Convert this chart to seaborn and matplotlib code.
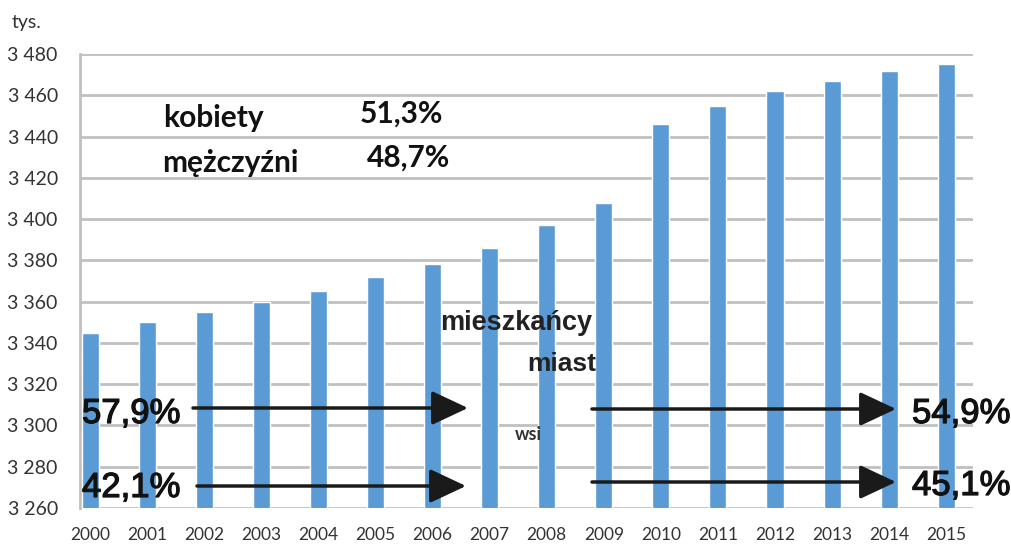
import matplotlib
matplotlib.use("Agg")
import matplotlib.pyplot as plt
import matplotlib.patheffects as pe
import seaborn as sns
import pandas as pd

years = [str(y) for y in range(2000, 2016)]
population = [3345, 3350, 3355, 3360, 3365, 3372, 3378, 3386, 3397, 3408,
              3446, 3455, 3462, 3467, 3472, 3475]
y_ticks = [3260, 3280, 3300, 3320, 3340, 3360, 3380, 3400, 3420, 3440, 3460, 3480]
y_tick_labels = ["3 260", "3 280", "3 300", "3 320", "3 340", "3 360", "3 380",
                 "3 400", "3 420", "3 440", "3 460", "3 480"]
unit_label = "tys."
gender_labels = ["kobiety", "mężczyźni"]
gender_shares = ["51,3%", "48,7%"]
urban_label = ["mieszkańcy", "miast"]
rural_label = "wsi"
share_start = ["57,9%", "42,1%"]
share_end = ["54,9%", "45,1%"]

sns.set_theme(style="white")
plt.rcParams['font.family'] = ['Lato', 'DejaVu Sans']

W, H = 1012, 548
fig = plt.figure(figsize=(W / 100, H / 100), dpi=100)
L, R, T, B = 80, 973, 54, 508
ax = fig.add_axes([L / W, 1 - B / H, (R - L) / W, (B - T) / H])

df = pd.DataFrame({"year": years, "pop": population})
sns.barplot(data=df, x="year", y="pop", color="#5b9bd5", width=0.3,
            saturation=1, ax=ax, zorder=3)
ax.set_ylim(3260, 3480)
ax.set_xlim(-0.18, 15.47)
ax.set_yticks(y_ticks)
ax.set_yticklabels(y_tick_labels, fontsize=14, color="#333333")
ax.tick_params(axis='y', pad=16, length=0)
ax.tick_params(axis='x', pad=14, length=0, labelsize=12.5, labelcolor="#333333")
ax.set_xlabel("")
ax.set_ylabel("")
for yv in y_ticks:
    ax.axhline(yv, color="#c0c0c0", lw=2, zorder=1)
for s in ["top", "right", "bottom"]:
    ax.spines[s].set_visible(False)
ax.spines["left"].set_color("#c0c0c0")
ax.spines["left"].set_linewidth(2)


def fx(px):
    return px / W


def fy(py):
    return 1 - py / H


fig.text(fx(12), fy(28), unit_label, fontsize=14, color="#333333", va="baseline")

calib = ['Lato', 'DejaVu Sans']
fig.text(fx(163), fy(127), gender_labels[0], fontsize=21.5, fontweight="bold",
         family=calib, va="baseline", color="#111111")
fig.text(fx(360), fy(123), gender_shares[0], fontsize=21.5, fontweight="bold",
         family=calib, va="baseline", color="#111111")
fig.text(fx(162), fy(172), gender_labels[1], fontsize=21.5, fontweight="bold",
         family=calib, va="baseline", color="#111111")
fig.text(fx(367), fy(167), gender_shares[1], fontsize=21.5, fontweight="bold",
         family=calib, va="baseline", color="#111111")

arial = ['Liberation Sans', 'DejaVu Sans']
fig.text(fx(440), fy(330), urban_label[0], fontsize=19.5, fontweight="bold",
         family=arial, va="baseline", color="#222222")
fig.text(fx(527), fy(371), urban_label[1], fontsize=19, fontweight="bold",
         family=arial, va="baseline", color="#222222")
fig.text(fx(515), fy(440), rural_label, fontsize=13, fontweight="bold",
         family=calib, va="baseline", color="#333333")

thick = [pe.withStroke(linewidth=0.9, foreground="#111111")]
for (px, py), s in zip([(82, 423), (82, 497)], share_start):
    fig.text(fx(px), fy(py), s, fontsize=25, family=arial, va="baseline",
             color="#111111", path_effects=thick)
for (px, py), s in zip([(912, 423), (912, 495)], share_end):
    fig.text(fx(px), fy(py), s, fontsize=25, family=arial, va="baseline",
             color="#111111", path_effects=thick)

arrows = [((193, 408), (468, 408)), ((197, 486), (466, 486)),
          ((592, 409), (896, 409)), ((592, 482), (896, 482))]
for (x0, y0), (x1, y1) in arrows:
    fig.add_artist(matplotlib.patches.FancyArrowPatch(
        (fx(x0), fy(y0)), (fx(x1), fy(y1)), transform=fig.transFigure,
        arrowstyle="-|>,head_length=1.6,head_width=0.75", mutation_scale=14,
        lw=2.5, color="#1a1a1a", zorder=10, shrinkA=0, shrinkB=0))

fig.savefig("out.png", dpi=100)
